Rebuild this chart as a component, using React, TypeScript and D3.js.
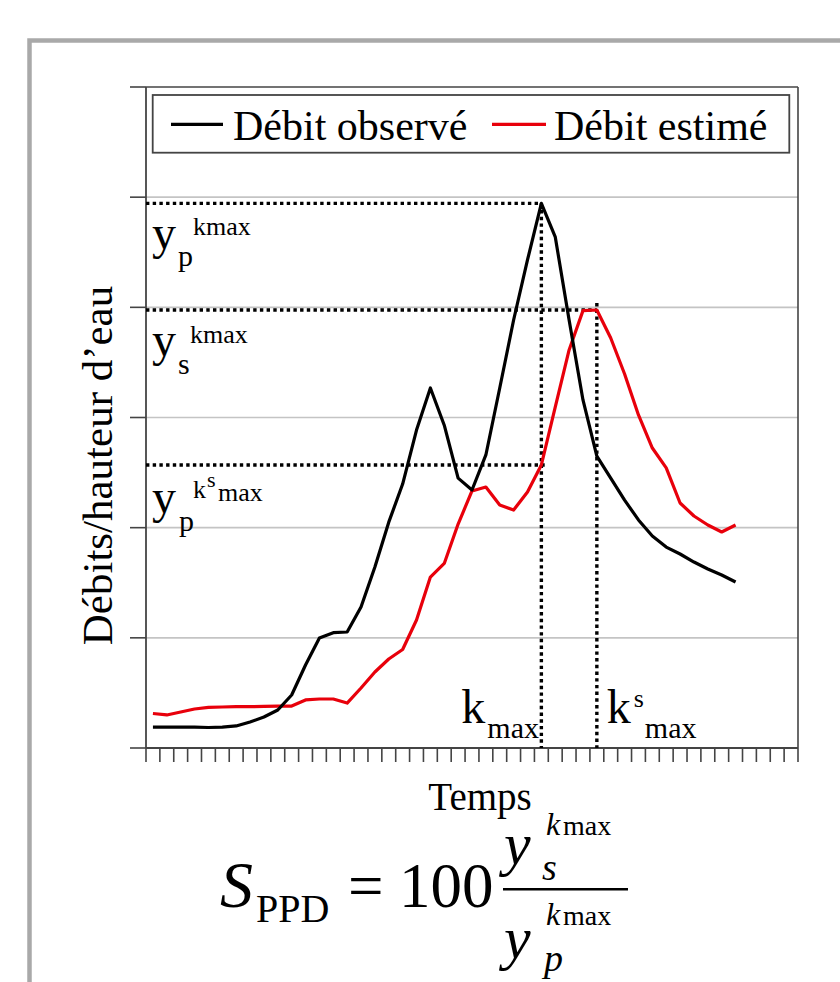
import React from 'react';
import * as d3 from 'd3';

// time steps on the x axis (one tick between two steps)
const nSteps = 47;

// discharge values (one value per time step)
const observed = [
  0.19, 0.19, 0.19, 0.19, 0.186, 0.19, 0.2, 0.236, 0.281, 0.345,
  0.481, 0.753, 0.998, 1.047, 1.053, 1.28, 1.643, 2.05, 2.396, 2.886,
  3.268, 2.93, 2.45, 2.342, 2.66, 3.268, 3.885, 4.43, 4.944, 4.64,
  3.885, 3.159, 2.65, 2.45, 2.25, 2.07, 1.924, 1.824, 1.761, 1.688,
  1.625, 1.57, 1.507
];

const estimated = [
  0.313, 0.3, 0.327, 0.354, 0.368, 0.372, 0.375, 0.375, 0.377, 0.381,
  0.381, 0.436, 0.445, 0.445, 0.408, 0.545, 0.69, 0.808, 0.894, 1.162,
  1.552, 1.675, 2.033, 2.333, 2.369, 2.206, 2.16, 2.324, 2.569, 3.095,
  3.613, 3.97, 3.976, 3.722, 3.395, 3.023, 2.723, 2.542, 2.224, 2.106,
  2.024, 1.961, 2.024
];

const yTicks = [0, 1, 2, 3, 4, 5, 6];

const legendLabels = ['Débit observé', 'Débit estimé'];
const seriesColors = ['#000000', '#e8000b'];

const serif = "'Liberation Serif', 'Times New Roman', serif";

export default function App() {
  const width = 840;
  const height = 982;
  const margin = {top: 87, right: 42, bottom: 234, left: 146};

  const x = d3.scaleBand<number>()
    .domain(d3.range(nSteps))
    .range([margin.left, width - margin.right]);
  const cx = (i: number) => (x(i) as number) + x.bandwidth() / 2;

  const y = d3.scaleLinear()
    .domain([0, 6])
    .range([height - margin.bottom, margin.top]);

  const line = d3.line<number>()
    .x((d, i) => cx(i))
    .y(d => y(d));

  const kmax = d3.maxIndex(observed);
  const ks = d3.maxIndex(estimated);

  const x0 = margin.left;
  const x1 = width - margin.right;
  const yb = height - margin.bottom;
  const axisColor = '#444';
  const dotted = {stroke: '#000', strokeWidth: 3.4, strokeDasharray: '3.4 3.3', fill: 'none'};

  // boundaries between steps get a small tick
  const tickXs = d3.range(nSteps + 1).map(i => i === nSteps ? x1 : (x(i) as number));

  const hLines = [
    {v: observed[kmax], to: cx(kmax)},
    {v: estimated[ks], to: cx(ks)},
    {v: estimated[kmax], to: cx(kmax) + 5},
  ];

  return (
    <svg width={width} height={height}
         style={{position: 'absolute', left: 0, top: 0, background: '#fff'}}
         fontFamily={serif}>
      {/* outer frame */}
      <rect x={29.5} y={40.5} width={900} height={1000} fill="none" stroke="#a9a9a9" strokeWidth={4.5} />

      {/* grid */}
      {yTicks.slice(1, -1).map(t => (
        <line key={'g' + t} x1={x0} x2={x1} y1={y(t)} y2={y(t)} stroke="#c4c4c4" strokeWidth={1.6} />
      ))}

      {/* plot frame + axes */}
      <line x1={x0} x2={x1} y1={margin.top} y2={margin.top} stroke={axisColor} strokeWidth={1.6} />
      <line x1={x1} x2={x1} y1={margin.top} y2={yb} stroke={axisColor} strokeWidth={1.6} />
      <line x1={x0} x2={x0} y1={margin.top} y2={yb} stroke={axisColor} strokeWidth={1.8} />
      <line x1={x0} x2={x1} y1={yb} y2={yb} stroke={axisColor} strokeWidth={1.8} />
      {yTicks.map(t => (
        <line key={'yt' + t} x1={x0 - 16} x2={x0} y1={y(t)} y2={y(t)} stroke={axisColor} strokeWidth={1.6} />
      ))}
      {tickXs.map((tx, i) => (
        <line key={'xt' + i} x1={tx} x2={tx} y1={yb} y2={yb + 14} stroke={axisColor} strokeWidth={1.6} />
      ))}

      {/* legend */}
      <rect x={152.7} y={95} width={636.6} height={57.7} fill="#fff" stroke={axisColor} strokeWidth={1.8} />
      <line x1={171} x2={223} y1={124.3} y2={124.3} stroke={seriesColors[0]} strokeWidth={3.2} />
      <text x={233} y={140} fontSize={42}>{legendLabels[0]}</text>
      <line x1={492} x2={546} y1={124.3} y2={124.3} stroke={seriesColors[1]} strokeWidth={3.2} />
      <text x={554} y={140} fontSize={42}>{legendLabels[1]}</text>

      {/* dotted reference lines */}
      {hLines.map((h, i) => (
        <line key={'h' + i} x1={x0} x2={h.to} y1={y(h.v)} y2={y(h.v)} {...dotted} />
      ))}
      <line x1={cx(kmax)} x2={cx(kmax)} y1={y(observed[kmax])} y2={yb} {...dotted} />
      <line x1={cx(ks)} x2={cx(ks)} y1={y(estimated[ks]) - 7} y2={yb} {...dotted} />

      {/* series */}
      <path d={line(estimated) as string} fill="none" stroke={seriesColors[1]} strokeWidth={3.2} strokeLinejoin="round" />
      <path d={line(observed) as string} fill="none" stroke={seriesColors[0]} strokeWidth={3.2} strokeLinejoin="round" />

      {/* annotations on the y side */}
      <g>
        <text x={152} y={y(observed[kmax]) + 46} fontSize={48}>y</text>
        <text x={178} y={y(observed[kmax]) + 63} fontSize={30}>p</text>
        <text x={193} y={y(observed[kmax]) + 32} fontSize={26}>kmax</text>

        <text x={152} y={y(estimated[ks]) + 46} fontSize={48}>y</text>
        <text x={178} y={y(estimated[ks]) + 64} fontSize={30}>s</text>
        <text x={190} y={y(estimated[ks]) + 33} fontSize={26}>kmax</text>

        <text x={152} y={y(estimated[kmax]) + 48} fontSize={48}>y</text>
        <text x={179} y={y(estimated[kmax]) + 66} fontSize={30}>p</text>
        <text x={193} y={y(estimated[kmax]) + 33} fontSize={26}>k</text>
        <text x={207} y={y(estimated[kmax]) + 22} fontSize={22}>s</text>
        <text x={218} y={y(estimated[kmax]) + 36} fontSize={26}>max</text>
      </g>

      {/* annotations on the time axis */}
      <g>
        <text x={cx(kmax) - 80} y={yb - 25} fontSize={48}>k</text>
        <text x={cx(kmax) - 54} y={yb - 10} fontSize={30}>max</text>
        <text x={cx(ks) + 10} y={yb - 25} fontSize={48}>k</text>
        <text x={cx(ks) + 37} y={yb - 41} fontSize={26}>s</text>
        <text x={cx(ks) + 48} y={yb - 10} fontSize={30}>max</text>
      </g>

      {/* axis titles */}
      <text transform="translate(111.5,465.5) rotate(-90)" textAnchor="middle" fontSize={43}>
        Débits/hauteur d’eau
      </text>
      <text x={480} y={810} textAnchor="middle" fontSize={39}>Temps</text>

      {/* formula */}
      <g>
        <text x={220} y={906.7} fontSize={66} fontStyle="italic">S</text>
        <text x={256} y={921.7} fontSize={40}>PPD</text>
        <text x={348} y={906.7} fontSize={63}>=</text>
        <text x={399} y={906.7} fontSize={63}>100</text>
        <line x1={503} x2={628} y1={889.3} y2={889.3} stroke="#000" strokeWidth={2.6} />

        <text x={504} y={864} fontSize={60} fontStyle="italic">y</text>
        <text x={542} y={880} fontSize={38} fontStyle="italic">s</text>
        <text x={546} y={835} fontSize={32} fontStyle="italic">k</text>
        <text x={563} y={835} fontSize={28}>max</text>

        <text x={504} y={958} fontSize={60} fontStyle="italic">y</text>
        <text x={544} y={971} fontSize={38} fontStyle="italic">p</text>
        <text x={546} y={925} fontSize={32} fontStyle="italic">k</text>
        <text x={563} y={925} fontSize={28}>max</text>
      </g>
    </svg>
  );
}
